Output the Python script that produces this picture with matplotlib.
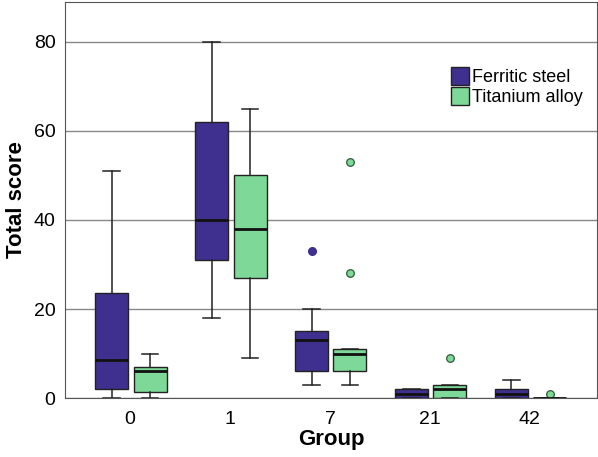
import matplotlib
matplotlib.use("Agg")
import matplotlib.pyplot as plt
from matplotlib.patches import Patch

plt.rcParams['font.family'] = ['Liberation Sans', 'DejaVu Sans']

groups = ['0', '1', '7', '21', '42']

# five-number summaries
fe_whislo = [0, 18, 3, 0, 0]
fe_q1 = [2, 31, 6, 0, 0]
fe_med = [8.5, 40, 13, 1, 1]
fe_q3 = [23.5, 62, 15, 2, 2]
fe_whishi = [51, 80, 20, 2, 4]
fe_fliers = [[], [], [33], [], []]

ti_whislo = [0, 9, 3, 0, 0]
ti_q1 = [1.4, 27, 6, 0, 0]
ti_med = [6, 38, 10, 2, 0]
ti_q3 = [7, 50, 11, 3, 0]
ti_whishi = [10, 65, 11, 3, 0]
ti_fliers = [[], [], [53, 28], [9], [1]]

fe_color = '#3f2f8e'
ti_color = '#7ed897'


def make_stats(lo, q1, med, q3, hi, fl):
    return [dict(whislo=a, q1=b, med=c, q3=d, whishi=e, fliers=f)
            for a, b, c, d, e, f in zip(lo, q1, med, q3, hi, fl)]


fig, ax = plt.subplots(figsize=(5.98, 4.57), dpi=100)
fig.subplots_adjust(left=0.109, right=0.998, top=0.996, bottom=0.129)

pos = list(range(len(groups)))
common = dict(widths=0.33, patch_artist=True, showcaps=True,
              whiskerprops=dict(color='#222222', lw=1.1),
              capprops=dict(color='#222222', lw=1.1),
              medianprops=dict(color='#111111', lw=2))

ax.bxp(make_stats(fe_whislo, fe_q1, fe_med, fe_q3, fe_whishi, fe_fliers),
       positions=[p - 0.185 for p in pos],
       boxprops=dict(facecolor=fe_color, edgecolor='#222222', lw=1),
       flierprops=dict(marker='o', markerfacecolor=fe_color, markeredgecolor=fe_color,
                       markersize=5.5),
       **common)
ax.bxp(make_stats(ti_whislo, ti_q1, ti_med, ti_q3, ti_whishi, ti_fliers),
       positions=[p + 0.2 for p in pos],
       boxprops=dict(facecolor=ti_color, edgecolor='#222222', lw=1),
       flierprops=dict(marker='o', markerfacecolor=ti_color, markeredgecolor='#2f5a3a',
                       markersize=5.5, markeredgewidth=0.9),
       **common)

ax.set_xlim(-0.65, 4.67)
ax.set_ylim(0, 89)
ax.set_xticks(pos)
ax.set_xticklabels(groups)
ax.set_yticks([0, 20, 40, 60, 80])
ax.tick_params(axis='both', length=0, labelsize=14)
ax.tick_params(axis='y', pad=7)
ax.tick_params(axis='x', pad=9)
ax.yaxis.grid(True, color='#888888', lw=1)
ax.set_axisbelow(True)
for s in ax.spines.values():
    s.set_color('#555555')

ax.set_xlabel('Group', fontsize=16, fontweight='bold', labelpad=1)
ax.set_ylabel('Total score', fontsize=16, fontweight='bold', labelpad=5)

handles = [Patch(facecolor=fe_color, edgecolor='#222222', label='Ferritic steel'),
           Patch(facecolor=ti_color, edgecolor='#222222', label='Titanium alloy')]
ax.legend(handles=handles, loc='upper right', bbox_to_anchor=(0.988, 0.855),
          frameon=False, fontsize=13, handlelength=1.0, handleheight=1.2,
          handletextpad=0.2, labelspacing=0.05, borderaxespad=0)

fig.savefig('out.png', dpi=100)
